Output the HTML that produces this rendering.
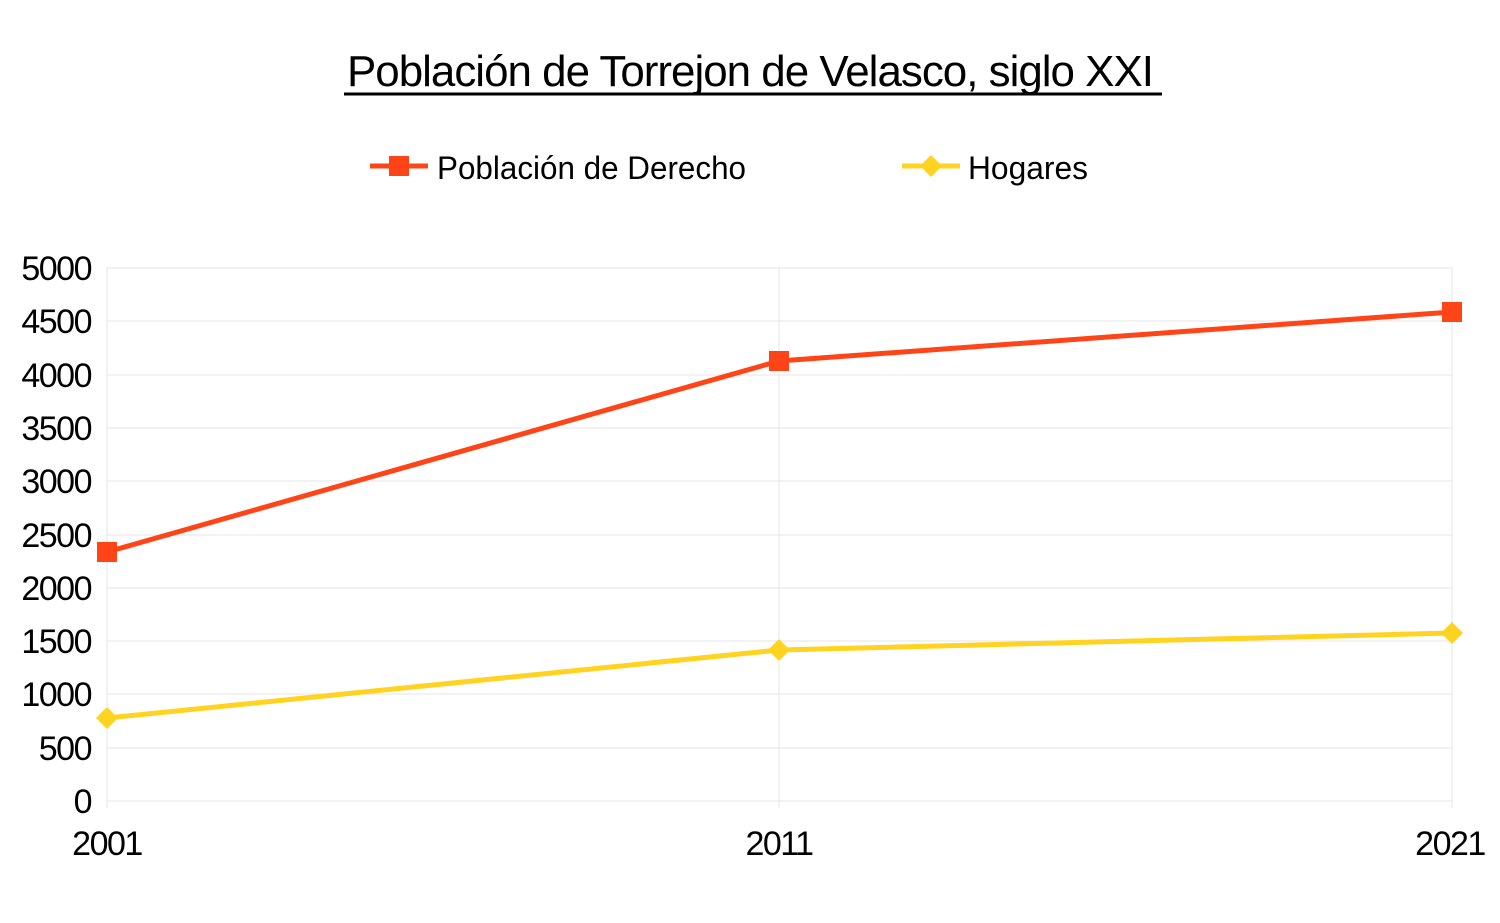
<!DOCTYPE html>
<html><head><meta charset="utf-8"><style>
body{margin:0;background:#fff}
svg{display:block}
text{font-family:"Liberation Sans",sans-serif;fill:#000}
</style></head><body>
<svg width="1500" height="923" viewBox="0 0 1500 923">
<text x="750" y="86" font-size="44" text-anchor="middle" letter-spacing="-1" textLength="806" lengthAdjust="spacingAndGlyphs">Población de Torrejon de Velasco, siglo XXI</text>
<line x1="344" y1="94" x2="1162" y2="94" stroke="#000" stroke-width="3"/>
<line x1="370" y1="166" x2="428" y2="166" stroke="#ff4418" stroke-width="5"/>
<rect x="389" y="156" width="20" height="20" fill="#ff4418"/>
<text x="437" y="179" font-size="32" textLength="309" lengthAdjust="spacingAndGlyphs">Población de Derecho</text>
<line x1="902" y1="166" x2="960" y2="166" stroke="#ffd320" stroke-width="5"/>
<polygon points="931,155 942,166 931,177 920,166" fill="#ffd320"/>
<text x="968" y="179" font-size="32" textLength="120" lengthAdjust="spacingAndGlyphs">Hogares</text>
<g stroke="#e6e6e6" stroke-width="1">
<line x1="107" y1="268" x2="1452" y2="268"/><line x1="107" y1="321" x2="1452" y2="321"/>
<line x1="107" y1="375" x2="1452" y2="375"/><line x1="107" y1="428" x2="1452" y2="428"/>
<line x1="107" y1="481" x2="1452" y2="481"/><line x1="107" y1="535" x2="1452" y2="535"/>
<line x1="107" y1="588" x2="1452" y2="588"/><line x1="107" y1="641" x2="1452" y2="641"/>
<line x1="107" y1="694" x2="1452" y2="694"/><line x1="107" y1="748" x2="1452" y2="748"/>
<line x1="107" y1="801" x2="1452" y2="801"/>
<line x1="107" y1="268" x2="107" y2="808"/><line x1="779" y1="268" x2="779" y2="808"/><line x1="1452" y1="268" x2="1452" y2="808"/>
</g>
<g font-size="34" text-anchor="end" letter-spacing="-1.5">
<text x="91" y="280">5000</text><text x="91" y="333">4500</text><text x="91" y="387">4000</text>
<text x="91" y="440">3500</text><text x="91" y="493">3000</text><text x="91" y="547">2500</text>
<text x="91" y="600">2000</text><text x="91" y="653">1500</text><text x="91" y="706">1000</text>
<text x="91" y="760">500</text><text x="91" y="813">0</text>
</g>
<g font-size="34" text-anchor="middle" letter-spacing="-1.5">
<text x="107" y="855">2001</text><text x="779" y="855">2011</text><text x="1450" y="855">2021</text>
</g>
<polyline points="107,552 779,361 1452,312" fill="none" stroke="#ff4418" stroke-width="5"/>
<rect x="97" y="542" width="20" height="20" fill="#ff4418"/>
<rect x="769" y="351" width="20" height="20" fill="#ff4418"/>
<rect x="1442" y="302" width="20" height="20" fill="#ff4418"/>
<polyline points="107,718 779,650 1452,633" fill="none" stroke="#ffd320" stroke-width="5"/>
<polygon points="107,707 118,718 107,729 96,718" fill="#ffd320"/>
<polygon points="779,639 790,650 779,661 768,650" fill="#ffd320"/>
<polygon points="1452,622 1463,633 1452,644 1441,633" fill="#ffd320"/>
</svg>
</body></html>
